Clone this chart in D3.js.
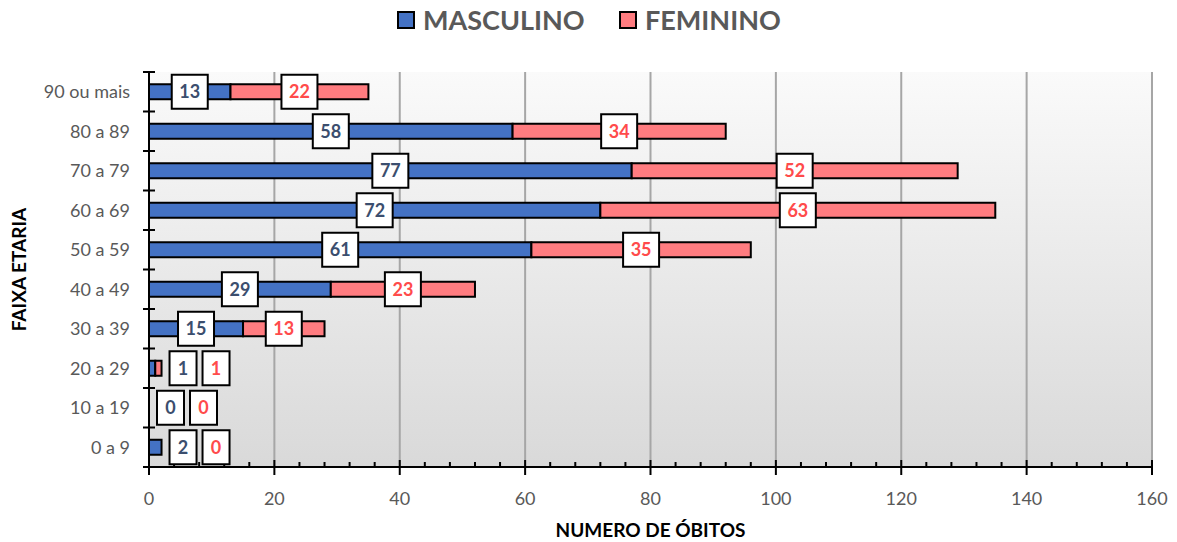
<!DOCTYPE html>
<html>
<head>
<meta charset="utf-8">
<script src="https://cdn.jsdelivr.net/npm/d3@7"></script>
<style>
  body { margin: 0; background: #fff; }
  svg { font-family: Lato, "Open Sans", sans-serif; }
</style>
</head>
<body>
<svg id="chart" width="1177" height="542"></svg>
<script>
// data
const faixas = ["90 ou mais", "80 a 89", "70 a 79", "60 a 69", "50 a 59", "40 a 49", "30 a 39", "20 a 29", "10 a 19", "0 a 9"];
const masculino = [13, 58, 77, 72, 61, 29, 15, 1, 0, 2];
const feminino = [22, 34, 52, 63, 35, 23, 13, 1, 0, 0];
const xTicks = [0, 20, 40, 60, 80, 100, 120, 140, 160];
const series = ["MASCULINO", "FEMININO"];

const fill = { MASCULINO: "#4472C4", FEMININO: "#FF7C80" };
const labelColor = { MASCULINO: "#3B4E6E", FEMININO: "#FF4B4B" };

const svg = d3.select("#chart");
const pLeft = 149, pRight = 1152, pTop = 72, pBottom = 467;

const x = d3.scaleLinear().domain([0, 160]).range([pLeft, pRight]);
const y = d3.scaleBand().domain(faixas).range([pTop, pBottom]);

// plot background gradient
const grad = svg.append("defs").append("linearGradient")
  .attr("id", "bg").attr("x1", 0).attr("y1", 0).attr("x2", 0).attr("y2", 1);
grad.append("stop").attr("offset", "0%").attr("stop-color", "#fafafa");
grad.append("stop").attr("offset", "100%").attr("stop-color", "#d9d9d9");

svg.append("rect")
  .attr("x", pLeft).attr("y", pTop)
  .attr("width", pRight - pLeft).attr("height", pBottom - pTop)
  .attr("fill", "url(#bg)");

// vertical gridlines
svg.append("g").selectAll("line")
  .data(xTicks.slice(1))
  .join("line")
  .attr("x1", d => x(d)).attr("x2", d => x(d))
  .attr("y1", pTop).attr("y2", pBottom)
  .attr("stroke", "#a6a6a6").attr("stroke-width", 2);

// stacked rows
const rows = faixas.map((f, i) => ({
  faixa: f,
  segs: [
    { key: "MASCULINO", v: masculino[i], x0: 0, x1: masculino[i] },
    { key: "FEMININO", v: feminino[i], x0: masculino[i], x1: masculino[i] + feminino[i] }
  ]
}));

const barH = 15;
const rowG = svg.append("g").selectAll("g")
  .data(rows)
  .join("g")
  .attr("transform", d => `translate(0,${y(d.faixa) + y.bandwidth() / 2})`);

rowG.selectAll("rect")
  .data(d => d.segs.filter(s => s.v > 0))
  .join("rect")
  .attr("x", s => x(s.x0))
  .attr("y", -barH / 2)
  .attr("width", s => x(s.x1) - x(s.x0))
  .attr("height", barH)
  .attr("fill", s => fill[s.key])
  .attr("stroke", "#000")
  .attr("stroke-width", 2);

// axes
const yAxisG = svg.append("g").attr("transform", `translate(${pLeft},0)`);
yAxisG.append("line")
  .attr("x1", 0).attr("x2", 0).attr("y1", pTop).attr("y2", pBottom)
  .attr("stroke", "#000").attr("stroke-width", 2);
const bounds = faixas.map(f => y(f)).concat([pBottom]);
yAxisG.selectAll("line.tk")
  .data(bounds)
  .join("line").attr("class", "tk")
  .attr("x1", -6).attr("x2", 6)
  .attr("y1", d => d).attr("y2", d => d)
  .attr("stroke", "#000").attr("stroke-width", 2);
yAxisG.selectAll("text")
  .data(faixas)
  .join("text")
  .attr("x", -19)
  .attr("y", d => y(d) + y.bandwidth() / 2)
  .attr("dy", "0.35em")
  .attr("text-anchor", "end")
  .attr("font-size", 18)
  .attr("fill", "#595959")
  .text(d => d);

const xAxisG = svg.append("g").attr("transform", `translate(0,${pBottom})`);
xAxisG.append("line")
  .attr("x1", pLeft).attr("x2", pRight).attr("y1", 0).attr("y2", 0)
  .attr("stroke", "#000").attr("stroke-width", 2);
xAxisG.selectAll("line.minor")
  .data(d3.range(0, 161, 4).filter(v => v % 20 !== 0))
  .join("line").attr("class", "minor")
  .attr("x1", d => x(d)).attr("x2", d => x(d))
  .attr("y1", -5).attr("y2", 0)
  .attr("stroke", "#000").attr("stroke-width", 2);
xAxisG.selectAll("line.major")
  .data(xTicks)
  .join("line").attr("class", "major")
  .attr("x1", d => x(d)).attr("x2", d => x(d))
  .attr("y1", -7).attr("y2", 8)
  .attr("stroke", "#000").attr("stroke-width", 2);
xAxisG.selectAll("text")
  .data(xTicks)
  .join("text")
  .attr("x", d => x(d))
  .attr("y", 38)
  .attr("text-anchor", "middle")
  .attr("font-size", 18)
  .attr("fill", "#595959")
  .text(d => d);

// data labels (centered in segment, pushed right when the segment is too narrow)
const labelG = svg.append("g");
rows.forEach(r => {
  const cy = y(r.faixa) + y.bandwidth() / 2;
  let cursor = x(r.segs[1].x1) + 8;
  let prevEnd = -Infinity;
  r.segs.forEach(s => {
    const w = String(s.v).length * 9 + 18;
    const segW = x(s.x1) - x(s.x0);
    let cx;
    if (segW >= w) {
      cx = (x(s.x0) + x(s.x1)) / 2;
      if (cx - w / 2 < prevEnd + 4) cx = prevEnd + 4 + w / 2;
    } else {
      cx = Math.max(cursor, prevEnd + 6) + w / 2;
    }
    prevEnd = cx + w / 2;
    cursor = prevEnd + 6;
    const g = labelG.append("g").attr("transform", `translate(${cx},${cy})`);
    g.append("rect")
      .attr("x", -w / 2).attr("y", -17)
      .attr("width", w).attr("height", 34)
      .attr("fill", "#fff").attr("stroke", "#000").attr("stroke-width", 2);
    g.append("text")
      .attr("text-anchor", "middle")
      .attr("dy", "0.36em")
      .attr("font-size", 18)
      .attr("font-weight", "bold")
      .attr("fill", labelColor[s.key])
      .text(s.v);
  });
});

// legend
const legend = svg.append("g").attr("transform", "translate(398,20)");
const legX = { MASCULINO: 0, FEMININO: 222 };
series.forEach(k => {
  const g = legend.append("g").attr("transform", `translate(${legX[k]},0)`);
  g.append("rect")
    .attr("x", 0).attr("y", -8).attr("width", 16).attr("height", 16)
    .attr("fill", fill[k]).attr("stroke", "#000").attr("stroke-width", 2);
  g.append("text")
    .attr("x", 25).attr("dy", "0.36em")
    .attr("font-size", 27).attr("font-weight", "bold")
    .attr("fill", "#595959")
    .text(k);
});

// axis titles
svg.append("text")
  .attr("transform", `translate(26,${(pTop + pBottom) / 2}) rotate(-90)`)
  .attr("text-anchor", "middle")
  .attr("font-size", 19).attr("font-weight", "bold")
  .attr("fill", "#000")
  .text("FAIXA ETARIA");

svg.append("text")
  .attr("x", (pLeft + pRight) / 2)
  .attr("y", 537)
  .attr("text-anchor", "middle")
  .attr("font-size", 19).attr("font-weight", "bold")
  .attr("fill", "#000")
  .text("NUMERO DE ÓBITOS");
</script>
</body>
</html>
